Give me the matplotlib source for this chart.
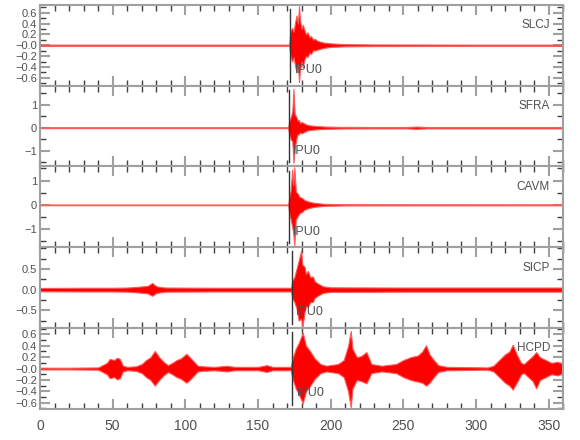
import numpy as np
import matplotlib
matplotlib.use("Agg")
import matplotlib.pyplot as plt
from matplotlib.ticker import MultipleLocator, FixedLocator, FixedFormatter

plt.rcParams['font.family'] = ['Liberation Sans', 'DejaVu Sans']

# station names, top to bottom
stations = ["SLCJ", "SFRA", "CAVM", "SICP", "HCPD"]
phase_name = "IPU0"
phase_time = [172.3, 171.0, 171.0, 173.2, 173.5]

# waveform envelopes (time s, upper, lower)
slcj_t = [0, 100, 171.5, 172.3, 173.5, 174.5, 175.5, 176.5, 177.5, 178.2, 179, 180, 180.8,
          182, 183, 184, 185.5, 186.5, 188, 189, 191, 195, 200, 210, 230, 300, 360]
slcj_up = [0.012, 0.012, 0.012, 0.25, 0.32, 0.25, 0.42, 0.55, 0.4, 0.72, 0.45, 0.3, 0.38,
           0.28, 0.2, 0.24, 0.15, 0.17, 0.1, 0.12, 0.08, 0.05, 0.035, 0.02, 0.015, 0.012, 0.012]
slcj_lo = [-0.012, -0.012, -0.012, -0.2, -0.3, -0.22, -0.38, -0.5, -0.35, -0.68, -0.45, -0.3, -0.4,
           -0.26, -0.2, -0.22, -0.14, -0.16, -0.09, -0.1, -0.08, -0.05, -0.03, -0.02, -0.015, -0.012, -0.012]

sfra_t = [0, 100, 170.8, 171.5, 172.5, 173.6, 174.4, 175.2, 176.5, 177.3, 178, 179, 180, 182,
          184, 186, 189, 196, 207, 230, 252, 259, 266, 285, 300, 360]
sfra_up = [0.02, 0.02, 0.02, 0.3, 0.45, 0.7, 1.69, 0.6, 0.45, 0.3, 0.35, 0.2, 0.25, 0.18,
           0.12, 0.1, 0.08, 0.05, 0.035, 0.03, 0.03, 0.05, 0.03, 0.03, 0.03, 0.03]
sfra_lo = [-0.02, -0.02, -0.02, -0.3, -0.5, -0.6, -1.53, -0.9, -0.45, -0.28, -0.3, -0.2, -0.25, -0.18,
           -0.12, -0.1, -0.08, -0.05, -0.035, -0.03, -0.03, -0.05, -0.03, -0.03, -0.03, -0.03]

cavm_t = [0, 100, 170.8, 171.5, 172.5, 173.5, 174.3, 175, 176, 177.5, 178.5, 180, 182, 184,
          186, 189, 196, 210, 360]
cavm_up = [0.015, 0.015, 0.015, 0.3, 0.6, 1.45, 0.8, 1.55, 0.55, 0.45, 0.32, 0.3, 0.2, 0.15,
           0.12, 0.08, 0.04, 0.025, 0.02]
cavm_lo = [-0.015, -0.015, -0.015, -0.35, -0.6, -0.9, -1.2, -1.67, -0.6, -0.45, -0.35, -0.3, -0.2, -0.15,
           -0.12, -0.08, -0.04, -0.025, -0.02]

sicp_t = [0, 30, 50, 60, 68, 74, 77.2, 80, 86, 120, 172.8, 173.5, 175, 176.5, 178, 179.7, 180.5,
          182, 183, 184.3, 186, 187.7, 189, 191, 194.7, 200, 250, 300, 360]
sicp_up = [0.04, 0.045, 0.045, 0.05, 0.07, 0.09, 0.16, 0.08, 0.05, 0.045, 0.045, 0.2, 0.3, 0.5, 0.7,
           0.95, 0.6, 0.55, 0.38, 0.45, 0.3, 0.32, 0.2, 0.15, 0.08, 0.055, 0.05, 0.05, 0.05]
sicp_lo = [-0.04, -0.045, -0.045, -0.05, -0.07, -0.09, -0.15, -0.08, -0.05, -0.045, -0.045, -0.2, -0.3,
           -0.45, -0.75, -0.7, -0.92, -0.55, -0.4, -0.42, -0.3, -0.3, -0.2, -0.15, -0.08, -0.055, -0.05,
           -0.05, -0.05]

hcpd_t = [0, 20, 40, 46, 48, 51, 53, 55, 57, 60, 66, 70, 73, 76, 79, 82, 85, 88, 91, 94,
          97, 100.7, 103, 106, 108.5, 112, 120, 129, 131, 134, 150, 156, 160, 172.5, 174, 176, 178,
          180.8, 183, 186, 189, 193, 197, 205, 209, 212, 213.8, 215, 218, 221, 224.6, 228, 235, 245,
          250, 255, 260, 263, 265.6, 268, 271, 274, 280, 308, 312, 316, 320, 323, 325.3, 328, 331,
          333, 336, 339, 341.4, 344, 348, 352, 356, 360]
hcpd_up = [0.015, 0.015, 0.02, 0.1, 0.17, 0.15, 0.19, 0.17, 0.05, 0.03, 0.04, 0.08, 0.15, 0.2, 0.31,
           0.2, 0.12, 0.06, 0.1, 0.15, 0.18, 0.26, 0.2, 0.12, 0.05, 0.04, 0.03, 0.05, 0.04, 0.03,
           0.03, 0.06, 0.03, 0.03, 0.2, 0.35, 0.45, 0.63, 0.4, 0.3, 0.18, 0.08, 0.05, 0.08, 0.15,
           0.4, 0.66, 0.35, 0.2, 0.22, 0.29, 0.08, 0.05, 0.08, 0.15, 0.2, 0.23, 0.3, 0.41, 0.25,
           0.15, 0.06, 0.03, 0.02, 0.05, 0.15, 0.25, 0.3, 0.42, 0.25, 0.1, 0.08, 0.15, 0.22, 0.29,
           0.2, 0.15, 0.1, 0.12, 0.08]
hcpd_lo = [-0.015, -0.015, -0.02, -0.1, -0.17, -0.15, -0.19, -0.17, -0.05, -0.03, -0.04, -0.08, -0.15,
           -0.2, -0.3, -0.2, -0.12, -0.06, -0.1, -0.15, -0.18, -0.25, -0.2, -0.12, -0.05, -0.04, -0.03,
           -0.05, -0.04, -0.03, -0.03, -0.06, -0.03, -0.03, -0.2, -0.35, -0.45, -0.61, -0.4, -0.3,
           -0.18, -0.08, -0.05, -0.08, -0.15, -0.4, -0.68, -0.35, -0.2, -0.22, -0.26, -0.08, -0.05,
           -0.08, -0.15, -0.2, -0.23, -0.25, -0.3, -0.25, -0.15, -0.06, -0.03, -0.02, -0.05, -0.15,
           -0.25, -0.3, -0.37, -0.25, -0.1, -0.08, -0.15, -0.22, -0.35, -0.2, -0.15, -0.1, -0.12, -0.08]

waves = [(slcj_t, slcj_up, slcj_lo), (sfra_t, sfra_up, sfra_lo), (cavm_t, cavm_up, cavm_lo),
         (sicp_t, sicp_up, sicp_lo), (hcpd_t, hcpd_up, hcpd_lo)]

# y-axis setup per panel: limits, major ticks, minor step, tick labels
ylims = [(-0.745, 0.745), (-1.69, 1.83), (-1.75, 1.58), (-0.93, 1.02), (-0.71, 0.71)]
ymajor = [[-0.6, -0.4, -0.2, 0, 0.2, 0.4, 0.6], [-1, 0, 1], [-1, 0, 1], [-0.5, 0, 0.5],
          [-0.6, -0.4, -0.2, 0, 0.2, 0.4, 0.6]]
yminor = [0.1, 0.5, 0.5, 0.25, 0.1]
ylabels = [["\u22120.6", "\u22120.4", "\u22120.2", "\u22120.0", "0.2", "0.4", "0.6"],
           ["\u22121", "0", "1"], ["\u22121", "0", "1"], ["\u22120.5", "0.0", "0.5"],
           ["\u22120.6", "\u22120.4", "\u22120.2", "\u22120.0", "0.2", "0.4", "0.6"]]

frame = "#a0a0a0"
txt = "#505050"

fig, axes = plt.subplots(5, 1, figsize=(5.8, 4.4), dpi=100, sharex=True)
fig.subplots_adjust(left=0.069, right=0.971, top=0.989, bottom=0.0705, hspace=0)

for i, ax in enumerate(axes):
    t, up, lo = waves[i]
    ax.fill_between(t, lo, up, facecolor="#ff0000", edgecolor="#ff5a5a", lw=0.8, zorder=2)
    ax.set_xlim(0, 360)
    ax.set_ylim(*ylims[i])
    ax.axvline(phase_time[i], ymin=0.05, ymax=0.95, color="#333333", lw=1, zorder=3)
    ax.text(phase_time[i] + 3, 0.12, phase_name, transform=ax.get_xaxis_transform(),
            fontsize=9, color=txt, va="bottom", ha="left", zorder=5)
    ax.text(0.975, 0.75, stations[i], transform=ax.transAxes, fontsize=8.5, color=txt,
            ha="right", va="center")
    ax.yaxis.set_major_locator(FixedLocator(ymajor[i]))
    ax.yaxis.set_major_formatter(FixedFormatter(ylabels[i]))
    ax.yaxis.set_minor_locator(MultipleLocator(yminor[i]))
    ax.xaxis.set_major_locator(MultipleLocator(50))
    ax.xaxis.set_minor_locator(MultipleLocator(10))
    ax.tick_params(which="both", direction="in", top=True, right=True, labelcolor=txt)
    ax.tick_params(axis="y", labelsize=8, pad=2)
    ax.tick_params(axis="x", labelsize=10, pad=7)
    ax.tick_params(which="major", length=7, width=1.5, color=frame)
    ax.tick_params(which="minor", length=4, width=1, color="#404040")
    for s in ax.spines.values():
        s.set_color(frame)
        s.set_linewidth(1.5)

plt.savefig("out.png", dpi=100)
